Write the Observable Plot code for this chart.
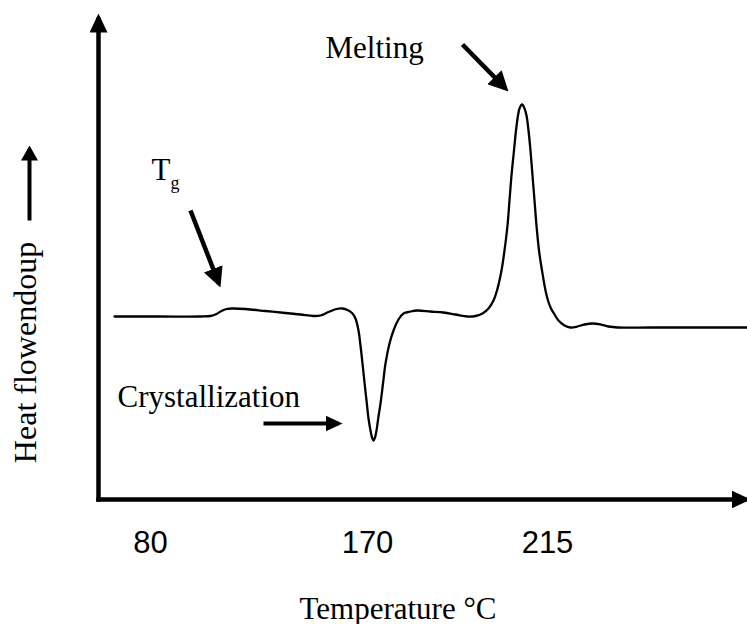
<!DOCTYPE html>
<html>
<head>
<meta charset="utf-8">
<script src="https://cdn.jsdelivr.net/npm/d3@7"></script>
<script src="https://cdn.jsdelivr.net/npm/@observablehq/plot@0.6"></script>
<style>
  html, body { margin: 0; padding: 0; background: #fff; }
</style>
</head>
<body>
<div id="chart"></div>
<script>
// ---- Data (schematic DSC trace; x = temperature position, y = heat flow, arbitrary units) ----
const curveX = [16, 62, 102, 112, 118, 123, 128, 134, 147, 167, 187, 202, 215, 222, 230, 238, 244, 249, 254, 257,
  260, 262, 264, 266, 268, 270, 272, 273.5, 275, 276.5, 278, 280, 282, 284.5, 287, 291, 295, 300, 305, 312, 319,
  332, 345, 357, 369, 377, 384, 390, 395, 398.5, 403, 406, 409, 411, 413, 415.5, 417.5, 419.5, 421, 423.5,
  426, 428, 430, 432, 434, 436, 438, 440.5, 443.5, 447, 449.5, 452.5, 455.5, 460, 466, 472, 479, 486, 494,
  502, 510, 519, 552, 602, 649];
const curveY = [183, 183, 183, 183.5, 185.5, 188.5, 190.5, 191, 190.5, 188.5, 186.5, 185, 183.5, 184, 187.5, 190.5, 191, 189.5, 186, 181,
  169, 154, 136, 117, 99, 81, 69, 62, 59, 62, 69, 83, 96, 116, 136, 156, 169, 180, 186, 188, 189,
  188, 187, 185, 183, 183.5, 186, 191, 199, 209, 229, 249, 274, 299, 324, 349, 369, 384, 391, 395,
  391, 384, 369, 349, 324, 299, 274, 249, 229, 209, 199, 191, 186, 179, 174, 172, 173, 175, 176,
  175, 173, 172, 172, 172, 172];

const tickPos = [52, 269, 449];
const tickLabels = ["80", "170", "215"];

const xTitle = "Temperature °C";
const yTitle = "Heat flowendoup";

const notes = [
  {name: "Melting", x: 227, y: 442},
  {name: "Crystallization", x: 19, y: 93}
];
const tgMain = [{name: "T", x: 53, y: 320}];
const tgSub = [{name: "g", x: 72, y: 311}];

const noteArrowsBig = [
  {x1: 92, y1: 289, x2: 120.5, y2: 215.7},   // Tg
  {x1: 364, y1: 455, x2: 407.2, y2: 410.9}   // Melting
];
const noteArrowsSmall = [
  {x1: 165, y1: 76, x2: 240, y2: 76}         // Crystallization
];
const yTitleArrow = [{x1: -69, y1: 279, x2: -69, y2: 350}];

const yAxisLine = [{x1: 0, y1: -2.25, x2: 0, y2: 482}];
const xAxisLine = [{x1: -2.25, y1: 0, x2: 648, y2: 0}];

// ---- Helpers ----
const serif = "'Liberation Serif', 'Times New Roman', Times, serif";
const sans = "'Liberation Sans', Arial, Helvetica, sans-serif";
function head(len, wid, back) {
  return (color) => {
    const m = d3.create("svg:marker")
      .attr("viewBox", `0 ${-wid / 2} ${len} ${wid}`)
      .attr("markerUnits", "userSpaceOnUse")
      .attr("markerWidth", len)
      .attr("markerHeight", wid)
      .attr("refX", len - back)
      .attr("refY", 0)
      .attr("orient", "auto");
    m.append("path")
      .attr("d", `M0,${-wid / 2}L${len},0L0,${wid / 2}Z`)
      .attr("fill", color)
      .attr("stroke", "none");
    return m.node();
  };
}

const curve = curveX.map((x, i) => ({x, y: curveY[i]}));
const tickLabelByPos = new Map(tickPos.map((p, i) => [p, tickLabels[i]]));

const chart = Plot.plot({
  width: 747,
  height: 624,
  marginLeft: 98,
  marginRight: 0,
  marginTop: 14,
  marginBottom: 125,
  x: {domain: [0, 649]},
  y: {domain: [0, 485], axis: null},
  style: {background: "white", color: "black", overflow: "visible"},
  marks: [
    Plot.axisX({
      ticks: tickPos,
      tickFormat: (d) => tickLabelByPos.get(d),
      tickSize: 0,
      tickPadding: 31,
      fontSize: 31,
      fontFamily: sans,
      label: null
    }),
    Plot.link(yAxisLine, {x1: "x1", y1: "y1", x2: "x2", y2: "y2", stroke: "black", strokeWidth: 4.5, markerEnd: head(19, 18, 4)}),
    Plot.link(xAxisLine, {x1: "x1", y1: "y1", x2: "x2", y2: "y2", stroke: "black", strokeWidth: 4.5, markerEnd: head(19, 18, 4)}),
    Plot.line(curve, {x: "x", y: "y", stroke: "black", strokeWidth: 2.3, curve: "catmull-rom"}),
    Plot.link(noteArrowsBig, {x1: "x1", y1: "y1", x2: "x2", y2: "y2", stroke: "black", strokeWidth: 4.5, markerEnd: head(20, 20, 4)}),
    Plot.link(noteArrowsSmall, {x1: "x1", y1: "y1", x2: "x2", y2: "y2", stroke: "black", strokeWidth: 4, markerEnd: head(17, 16, 4)}),
    Plot.link(yTitleArrow, {x1: "x1", y1: "y1", x2: "x2", y2: "y2", stroke: "black", strokeWidth: 4, markerEnd: head(15, 17, 4)}),
    Plot.text(notes, {x: "x", y: "y", text: "name", textAnchor: "start", lineAnchor: "bottom", fontSize: 31, fontFamily: serif, fill: "black"}),
    Plot.text(tgMain, {x: "x", y: "y", text: "name", textAnchor: "start", lineAnchor: "bottom", fontSize: 31, fontFamily: serif, fill: "black"}),
    Plot.text(tgSub, {x: "x", y: "y", text: "name", textAnchor: "start", lineAnchor: "bottom", fontSize: 18, fontFamily: serif, fill: "black"}),
    Plot.text([xTitle], {x: 299.5, y: -119, text: (d) => d, textAnchor: "middle", lineAnchor: "bottom", fontSize: 31, fontFamily: serif, fill: "black"}),
    Plot.text([yTitle], {x: -63, y: 147, text: (d) => d, rotate: -90, textAnchor: "middle", lineAnchor: "bottom", fontSize: 32, fontFamily: serif, fill: "black"})
  ]
});

document.getElementById("chart").appendChild(chart);
</script>
</body>
</html>
